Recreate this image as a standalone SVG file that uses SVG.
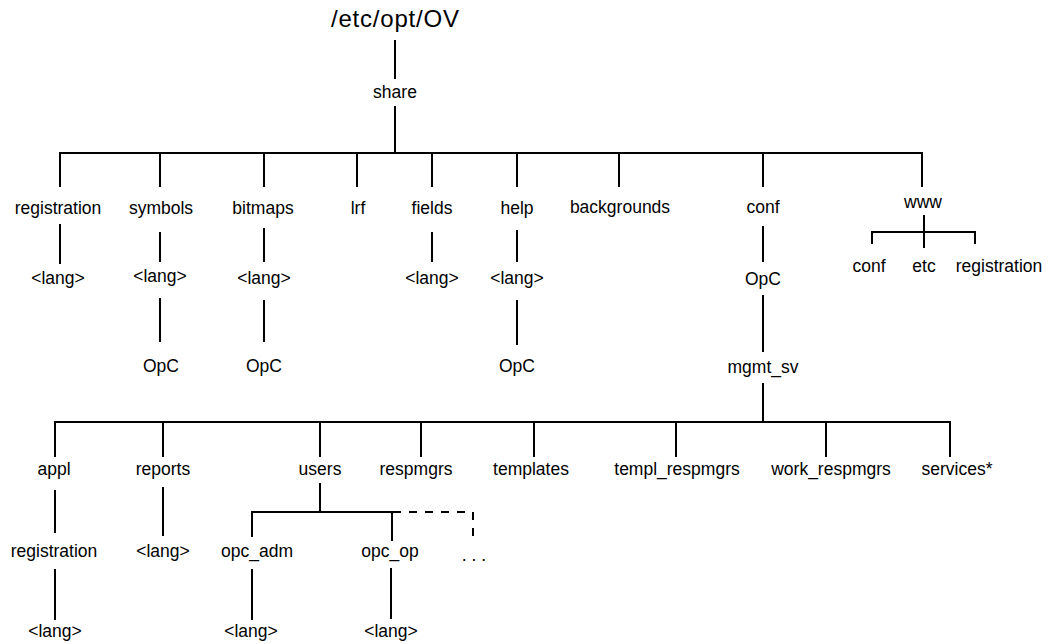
<svg xmlns="http://www.w3.org/2000/svg" width="1048" height="644" viewBox="0 0 1048 644">
<style>
text{font-family:"Liberation Sans",Arial,sans-serif;font-size:17.5px;fill:#000;text-anchor:middle}
.title{font-size:24px}
#connectors line,#connectors path{stroke:#000;stroke-width:2;fill:none}
#connectors .dash{stroke-dasharray:8,8}
</style>
<rect width="1048" height="644" fill="#fff"/>
<g id="connectors">
<line x1="395" y1="40" x2="395" y2="79"/>
<line x1="395" y1="106" x2="395" y2="153"/>
<path d="M60 187V153H922V187"/>
<line x1="160" y1="153" x2="160" y2="187"/>
<line x1="264" y1="153" x2="264" y2="187"/>
<line x1="357" y1="153" x2="357" y2="187"/>
<line x1="432" y1="153" x2="432" y2="187"/>
<line x1="517" y1="153" x2="517" y2="187"/>
<line x1="619" y1="153" x2="619" y2="187"/>
<line x1="763" y1="153" x2="763" y2="187"/>
<line x1="60" y1="224" x2="60" y2="264"/>
<line x1="160" y1="232" x2="160" y2="262"/>
<line x1="160" y1="298" x2="160" y2="342"/>
<line x1="264" y1="228" x2="264" y2="262"/>
<line x1="264" y1="300" x2="264" y2="342"/>
<line x1="432" y1="232" x2="432" y2="262"/>
<line x1="517" y1="230" x2="517" y2="262"/>
<line x1="517" y1="300" x2="517" y2="345"/>
<line x1="763" y1="226" x2="763" y2="262"/>
<line x1="763" y1="295" x2="763" y2="352"/>
<line x1="763" y1="383" x2="763" y2="422"/>
<line x1="924" y1="215" x2="924" y2="248"/>
<path d="M872 244V232H975V244"/>
<path d="M55 457V422H950V457"/>
<line x1="163" y1="422" x2="163" y2="457"/>
<line x1="320" y1="422" x2="320" y2="457"/>
<line x1="421" y1="422" x2="421" y2="457"/>
<line x1="534" y1="422" x2="534" y2="457"/>
<line x1="676" y1="422" x2="676" y2="457"/>
<line x1="826" y1="422" x2="826" y2="457"/>
<line x1="55" y1="490" x2="55" y2="533"/>
<line x1="55" y1="569" x2="55" y2="620"/>
<line x1="163" y1="487" x2="163" y2="536"/>
<line x1="320" y1="483" x2="320" y2="512"/>
<path d="M252 537V512H392V541"/>
<path class="dash" d="M393 512H473V540"/>
<line x1="252" y1="569" x2="252" y2="620"/>
<line x1="391" y1="568" x2="391" y2="619"/>
</g>
<g id="n-root"><text class="title" x="395" y="27" textLength="128" lengthAdjust="spacing">/etc/opt/OV</text></g>
<g id="n-share"><text x="395" y="98">share</text></g>
<g id="n-registration"><text x="58" y="214">registration</text></g>
<g id="n-symbols"><text x="161" y="214">symbols</text></g>
<g id="n-bitmaps"><text x="263" y="214">bitmaps</text></g>
<g id="n-lrf"><text x="358" y="214">lrf</text></g>
<g id="n-fields"><text x="432" y="214">fields</text></g>
<g id="n-help"><text x="517" y="214">help</text></g>
<g id="n-backgrounds"><text x="620" y="213">backgrounds</text></g>
<g id="n-conf"><text x="763" y="213">conf</text></g>
<g id="n-www"><text x="923" y="208">www</text></g>
<g id="n-registration-lang"><text x="58" y="284">&lt;lang&gt;</text></g>
<g id="n-symbols-lang"><text x="160" y="282">&lt;lang&gt;</text></g>
<g id="n-symbols-opc"><text x="161" y="372">OpC</text></g>
<g id="n-bitmaps-lang"><text x="264" y="284">&lt;lang&gt;</text></g>
<g id="n-bitmaps-opc"><text x="264" y="372">OpC</text></g>
<g id="n-fields-lang"><text x="432" y="284">&lt;lang&gt;</text></g>
<g id="n-help-lang"><text x="517" y="284">&lt;lang&gt;</text></g>
<g id="n-help-opc"><text x="517" y="372">OpC</text></g>
<g id="n-conf-opc"><text x="763" y="285">OpC</text></g>
<g id="n-mgmt_sv"><text x="763" y="373">mgmt_sv</text></g>
<g id="n-www-conf"><text x="869" y="272">conf</text></g>
<g id="n-www-etc"><text x="924" y="272">etc</text></g>
<g id="n-www-registration"><text x="999" y="272">registration</text></g>
<g id="n-appl"><text x="54" y="475">appl</text></g>
<g id="n-reports"><text x="163" y="475">reports</text></g>
<g id="n-users"><text x="320" y="475">users</text></g>
<g id="n-respmgrs"><text x="416" y="475">respmgrs</text></g>
<g id="n-templates"><text x="531" y="475">templates</text></g>
<g id="n-templ_respmgrs"><text x="677" y="475">templ_respmgrs</text></g>
<g id="n-work_respmgrs"><text x="831" y="475">work_respmgrs</text></g>
<g id="n-services"><text x="957" y="475">services*</text></g>
<g id="n-appl-registration"><text x="54" y="557">registration</text></g>
<g id="n-reports-lang"><text x="163" y="557">&lt;lang&gt;</text></g>
<g id="n-opc_adm"><text x="257" y="557">opc_adm</text></g>
<g id="n-opc_op"><text x="390" y="557">opc_op</text></g>
<g id="n-more"><text x="474" y="561">. . .</text></g>
<g id="n-appl-lang"><text x="55" y="637">&lt;lang&gt;</text></g>
<g id="n-opc_adm-lang"><text x="251" y="637">&lt;lang&gt;</text></g>
<g id="n-opc_op-lang"><text x="391" y="637">&lt;lang&gt;</text></g>
</svg>
